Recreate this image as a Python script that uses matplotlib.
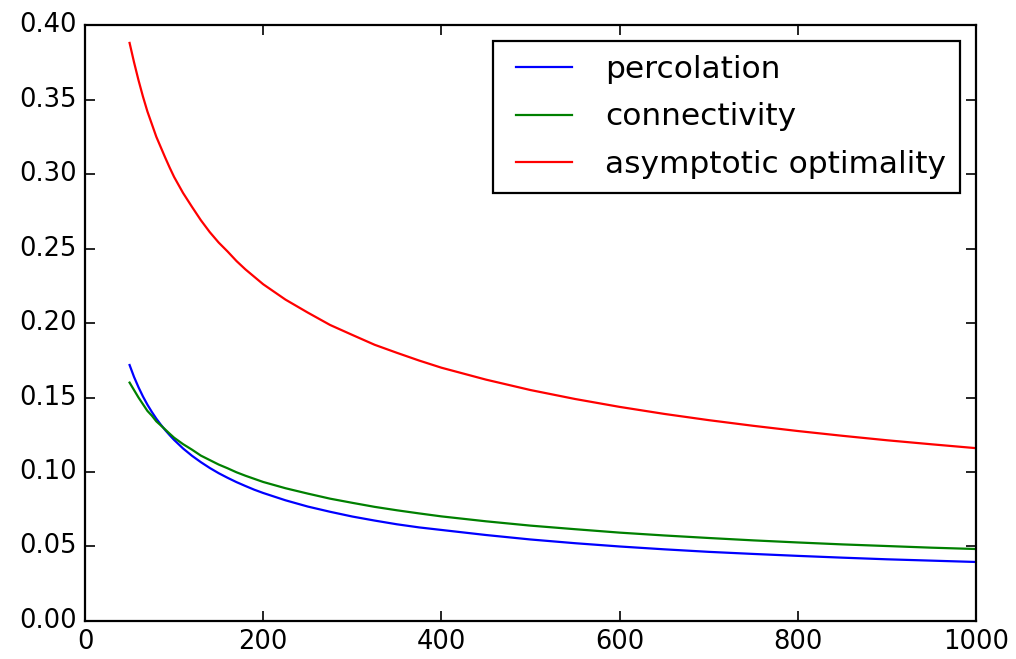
import numpy as np
import matplotlib.pyplot as plt

plt.style.use('classic')

n_vals = [50, 55, 60, 65, 70, 75, 80, 85, 90, 95, 100, 110, 120, 130, 140, 150,
          160, 170, 180, 190, 200, 225, 250, 275, 300, 325, 350, 375, 400, 450,
          500, 550, 600, 650, 700, 750, 800, 850, 900, 950, 1000]

percolation = [0.1718, 0.1638, 0.1569, 0.1507, 0.1452, 0.1403, 0.1358, 0.1318,
               0.1281, 0.1247, 0.1215, 0.1158, 0.1109, 0.1066, 0.1027, 0.0992,
               0.0961, 0.0932, 0.0906, 0.0881, 0.0859, 0.0810, 0.0768, 0.0733,
               0.0701, 0.0674, 0.0649, 0.0628, 0.0611, 0.0577, 0.0547, 0.0522,
               0.0500, 0.0481, 0.0464, 0.0450, 0.0437, 0.0425, 0.0414, 0.0405,
               0.0396]

connectivity = [0.160, 0.155, 0.150, 0.1455, 0.141, 0.1378, 0.134, 0.1313,
                0.1285, 0.1257, 0.123, 0.1187, 0.115, 0.111, 0.108, 0.105,
                0.1025, 0.0998, 0.0975, 0.0954, 0.0933, 0.0891, 0.0855, 0.0821,
                0.0793, 0.0766, 0.0743, 0.0722, 0.0702, 0.0669, 0.0640, 0.0616,
                0.0593, 0.0574, 0.0557, 0.0541, 0.0527, 0.0514, 0.0503, 0.0492,
                0.0483]

asymptotic = [0.388, 0.375, 0.363, 0.352, 0.342, 0.3335, 0.325, 0.318, 0.311,
              0.3043, 0.298, 0.2873, 0.278, 0.269, 0.261, 0.254, 0.248, 0.2416,
              0.236, 0.231, 0.226, 0.2157, 0.207, 0.1987, 0.192, 0.1854, 0.180,
              0.1748, 0.170, 0.162, 0.155, 0.149, 0.1437, 0.1390, 0.1348,
              0.1310, 0.1275, 0.1243, 0.1213, 0.1186, 0.116]

fig = plt.figure(figsize=(10.16, 6.59), dpi=100)
fig.patch.set_facecolor('white')
ax = fig.add_axes([0.0837, 0.0577, 0.8769, 0.9043])

lw = 1.6
ax.plot(n_vals, percolation, color='b', linewidth=lw, label="percolation")
ax.plot(n_vals, connectivity, color='g', linewidth=lw, label="connectivity")
ax.plot(n_vals, asymptotic, color='r', linewidth=lw, label="asymptotic optimality")

ax.set_xlim(0, 1000)
ax.set_ylim(0, 0.40)
ax.set_xticks(np.arange(0, 1001, 200))
ax.set_yticks(np.arange(0, 0.401, 0.05))
ax.set_yticklabels([f"{v:.2f}" for v in np.arange(0, 0.401, 0.05)])

ax.tick_params(labelsize=18.5, length=7, width=1.2, pad=6)
for s in ax.spines.values():
    s.set_linewidth(1.6)

leg = ax.legend(loc='upper right', fontsize=22.5, handlelength=2.4,
                handletextpad=0.75, labelspacing=0.6, borderpad=0.45,
                borderaxespad=0.5, frameon=True, fancybox=False)
leg.get_frame().set_linewidth(1.6)
leg.get_frame().set_edgecolor('black')

plt.savefig("out.png", dpi=100, facecolor='white')
